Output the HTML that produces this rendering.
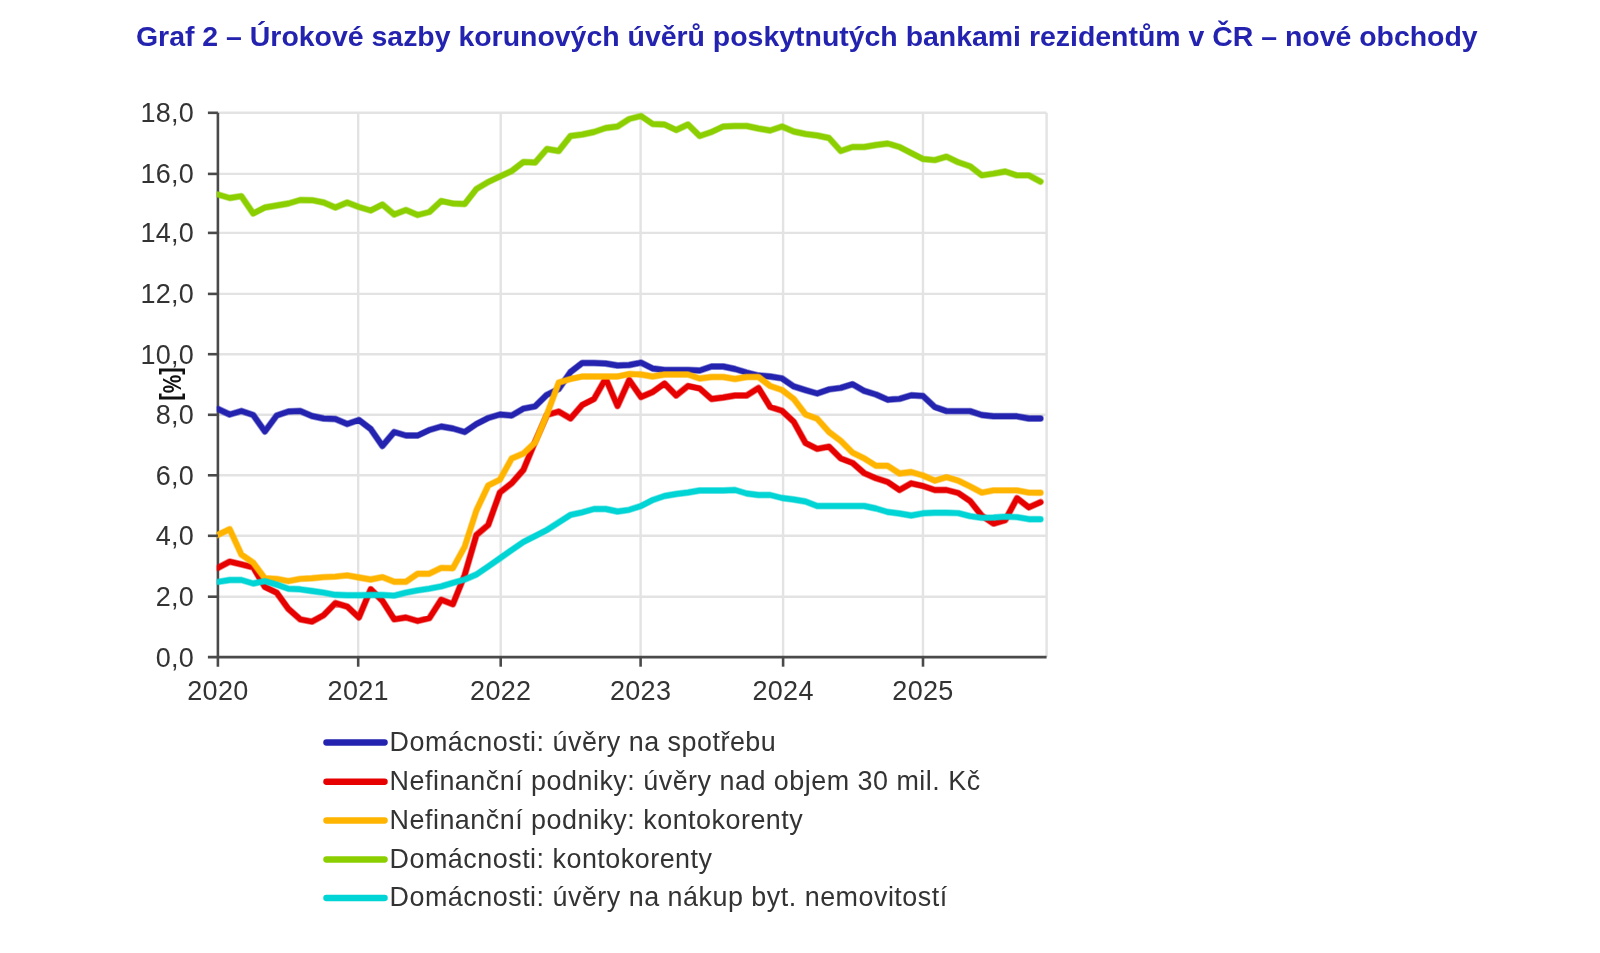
<!DOCTYPE html>
<html><head><meta charset="utf-8"><title>Graf 2</title>
<style>
html,body{margin:0;padding:0;background:#fff;}
body{width:1600px;height:953px;overflow:hidden;position:relative;}
svg{position:absolute;left:0;top:0;will-change:transform;}
.tl{font-family:"Liberation Sans",Arial,sans-serif;font-size:27px;fill:#333333;letter-spacing:0.3px;}
.lg{font-family:"Liberation Sans",Arial,sans-serif;font-size:26.9px;fill:#333333;letter-spacing:0.5px;}
.yt{font-family:"Liberation Sans",Arial,sans-serif;font-size:28px;font-weight:bold;fill:#111;}
</style></head><body>
<svg width="1600" height="953" viewBox="0 0 1600 953">
<text x="136" y="46.3" style="font-family:'Liberation Sans',Arial,sans-serif;font-size:28.45px;font-weight:bold;fill:#2323b0">Graf 2 – Úrokové sazby korunových úvěrů poskytnutých bankami rezidentům v ČR – nové obchody</text>
<line x1="217.9" y1="596.7" x2="1046.6" y2="596.7" stroke="#e3e3e3" stroke-width="2.4"/>
<line x1="217.9" y1="535.8" x2="1046.6" y2="535.8" stroke="#e3e3e3" stroke-width="2.4"/>
<line x1="217.9" y1="475.3" x2="1046.6" y2="475.3" stroke="#e3e3e3" stroke-width="2.4"/>
<line x1="217.9" y1="414.8" x2="1046.6" y2="414.8" stroke="#e3e3e3" stroke-width="2.4"/>
<line x1="217.9" y1="354.2" x2="1046.6" y2="354.2" stroke="#e3e3e3" stroke-width="2.4"/>
<line x1="217.9" y1="293.9" x2="1046.6" y2="293.9" stroke="#e3e3e3" stroke-width="2.4"/>
<line x1="217.9" y1="232.9" x2="1046.6" y2="232.9" stroke="#e3e3e3" stroke-width="2.4"/>
<line x1="217.9" y1="173.9" x2="1046.6" y2="173.9" stroke="#e3e3e3" stroke-width="2.4"/>
<line x1="217.9" y1="112.8" x2="1046.6" y2="112.8" stroke="#e3e3e3" stroke-width="2.4"/>
<line x1="358.2" y1="112.8" x2="358.2" y2="657.1" stroke="#e3e3e3" stroke-width="2.4"/>
<line x1="500.7" y1="112.8" x2="500.7" y2="657.1" stroke="#e3e3e3" stroke-width="2.4"/>
<line x1="640.6" y1="112.8" x2="640.6" y2="657.1" stroke="#e3e3e3" stroke-width="2.4"/>
<line x1="783.1" y1="112.8" x2="783.1" y2="657.1" stroke="#e3e3e3" stroke-width="2.4"/>
<line x1="923.0" y1="112.8" x2="923.0" y2="657.1" stroke="#e3e3e3" stroke-width="2.4"/>
<line x1="1046.6" y1="112.8" x2="1046.6" y2="657.1" stroke="#e3e3e3" stroke-width="2.4"/>
<line x1="217.9" y1="112.8" x2="217.9" y2="666.7" stroke="#4a4a4a" stroke-width="2.6"/>
<line x1="207.9" y1="657.1" x2="1046.6" y2="657.1" stroke="#4a4a4a" stroke-width="2.6"/>
<clipPath id="pc"><rect x="216.8" y="0" width="900" height="953"/></clipPath><g clip-path="url(#pc)">
<polyline points="217.9,409.0 229.7,414.5 241.4,411.0 253.2,415.0 264.9,431.5 276.7,415.5 288.4,411.5 300.2,411.0 311.9,416.0 323.7,418.5 335.4,419.0 347.2,424.0 358.9,420.0 370.7,429.0 382.4,446.0 394.2,432.0 405.9,435.5 417.7,435.5 429.4,430.0 441.2,426.5 452.9,428.5 464.7,432.0 476.4,424.0 488.2,418.0 499.9,414.5 511.7,415.5 523.4,408.6 535.2,406.3 546.9,394.8 558.7,389.0 570.5,372.0 582.2,363.0 594.0,363.0 605.7,363.5 617.5,365.5 629.2,365.0 641.0,362.7 652.7,368.5 664.5,370.0 676.2,370.0 688.0,370.0 699.7,370.5 711.5,366.5 723.2,366.5 735.0,369.0 746.7,372.5 758.5,375.5 770.2,376.5 782.0,378.4 793.7,386.4 805.5,390.1 817.2,393.5 829.0,389.4 840.7,387.9 852.5,384.2 864.2,390.9 876.0,394.5 887.7,399.7 899.5,398.9 911.2,395.3 923.0,396.0 934.8,407.1 946.5,411.1 958.3,411.1 970.0,411.1 981.8,415.0 993.5,416.3 1005.3,416.3 1017.0,416.3 1028.8,418.5 1040.5,418.5" fill="none" stroke="#2323b0" stroke-opacity="0.5" stroke-width="6.9" stroke-linejoin="round" stroke-linecap="round"/>
<polyline points="217.9,409.0 229.7,414.5 241.4,411.0 253.2,415.0 264.9,431.5 276.7,415.5 288.4,411.5 300.2,411.0 311.9,416.0 323.7,418.5 335.4,419.0 347.2,424.0 358.9,420.0 370.7,429.0 382.4,446.0 394.2,432.0 405.9,435.5 417.7,435.5 429.4,430.0 441.2,426.5 452.9,428.5 464.7,432.0 476.4,424.0 488.2,418.0 499.9,414.5 511.7,415.5 523.4,408.6 535.2,406.3 546.9,394.8 558.7,389.0 570.5,372.0 582.2,363.0 594.0,363.0 605.7,363.5 617.5,365.5 629.2,365.0 641.0,362.7 652.7,368.5 664.5,370.0 676.2,370.0 688.0,370.0 699.7,370.5 711.5,366.5 723.2,366.5 735.0,369.0 746.7,372.5 758.5,375.5 770.2,376.5 782.0,378.4 793.7,386.4 805.5,390.1 817.2,393.5 829.0,389.4 840.7,387.9 852.5,384.2 864.2,390.9 876.0,394.5 887.7,399.7 899.5,398.9 911.2,395.3 923.0,396.0 934.8,407.1 946.5,411.1 958.3,411.1 970.0,411.1 981.8,415.0 993.5,416.3 1005.3,416.3 1017.0,416.3 1028.8,418.5 1040.5,418.5" fill="none" stroke="#2323b0" stroke-width="5.4" stroke-linejoin="round" stroke-linecap="round"/>
<polyline points="217.9,567.9 229.7,561.6 241.4,564.4 253.2,567.3 264.9,587.0 276.7,592.7 288.4,608.9 300.2,619.3 311.9,621.6 323.7,615.2 335.4,603.1 347.2,606.6 358.9,617.5 370.7,589.3 382.4,600.8 394.2,619.3 405.9,617.5 417.7,621.0 429.4,618.1 441.2,599.7 452.9,604.3 464.7,575.0 476.4,535.0 488.2,525.0 499.9,492.5 511.7,483.2 523.4,469.9 535.2,441.5 546.9,415.0 558.7,411.5 570.5,418.5 582.2,405.0 594.0,399.0 605.7,378.5 617.5,406.0 629.2,380.0 641.0,397.0 652.7,392.0 664.5,383.5 676.2,395.5 688.0,386.0 699.7,388.5 711.5,399.0 723.2,397.5 735.0,395.5 746.7,395.5 758.5,388.0 770.2,407.0 782.0,410.8 793.7,421.7 805.5,443.0 817.2,448.9 829.0,446.7 840.7,458.4 852.5,462.9 864.2,473.1 876.0,478.3 887.7,482.0 899.5,490.0 911.2,483.3 923.0,486.0 934.8,490.0 946.5,490.0 958.3,493.0 970.0,500.9 981.8,515.7 993.5,523.6 1005.3,520.1 1017.0,498.2 1028.8,507.4 1040.5,502.2" fill="none" stroke="#e60000" stroke-opacity="0.5" stroke-width="6.9" stroke-linejoin="round" stroke-linecap="round"/>
<polyline points="217.9,567.9 229.7,561.6 241.4,564.4 253.2,567.3 264.9,587.0 276.7,592.7 288.4,608.9 300.2,619.3 311.9,621.6 323.7,615.2 335.4,603.1 347.2,606.6 358.9,617.5 370.7,589.3 382.4,600.8 394.2,619.3 405.9,617.5 417.7,621.0 429.4,618.1 441.2,599.7 452.9,604.3 464.7,575.0 476.4,535.0 488.2,525.0 499.9,492.5 511.7,483.2 523.4,469.9 535.2,441.5 546.9,415.0 558.7,411.5 570.5,418.5 582.2,405.0 594.0,399.0 605.7,378.5 617.5,406.0 629.2,380.0 641.0,397.0 652.7,392.0 664.5,383.5 676.2,395.5 688.0,386.0 699.7,388.5 711.5,399.0 723.2,397.5 735.0,395.5 746.7,395.5 758.5,388.0 770.2,407.0 782.0,410.8 793.7,421.7 805.5,443.0 817.2,448.9 829.0,446.7 840.7,458.4 852.5,462.9 864.2,473.1 876.0,478.3 887.7,482.0 899.5,490.0 911.2,483.3 923.0,486.0 934.8,490.0 946.5,490.0 958.3,493.0 970.0,500.9 981.8,515.7 993.5,523.6 1005.3,520.1 1017.0,498.2 1028.8,507.4 1040.5,502.2" fill="none" stroke="#e60000" stroke-width="5.4" stroke-linejoin="round" stroke-linecap="round"/>
<polyline points="217.9,534.8 229.7,529.2 241.4,554.6 253.2,562.7 264.9,578.3 276.7,578.9 288.4,581.2 300.2,578.9 311.9,578.3 323.7,577.1 335.4,576.6 347.2,575.4 358.9,577.5 370.7,579.5 382.4,577.1 394.2,581.8 405.9,581.8 417.7,573.7 429.4,573.7 441.2,567.9 452.9,568.2 464.7,546.7 476.4,510.5 488.2,485.5 499.9,479.6 511.7,458.5 523.4,453.5 535.2,442.5 546.9,414.5 558.7,382.6 570.5,379.0 582.2,376.5 594.0,376.5 605.7,376.5 617.5,376.5 629.2,374.0 641.0,374.5 652.7,376.5 664.5,374.5 676.2,374.5 688.0,374.5 699.7,378.5 711.5,377.0 723.2,377.0 735.0,379.0 746.7,377.0 758.5,377.0 770.2,386.0 782.0,390.0 793.7,398.9 805.5,414.4 817.2,418.8 829.0,432.0 840.7,440.8 852.5,452.6 864.2,458.4 876.0,465.8 887.7,465.8 899.5,473.5 911.2,472.0 923.0,475.5 934.8,480.7 946.5,477.2 958.3,480.7 970.0,486.4 981.8,492.6 993.5,490.4 1005.3,490.4 1017.0,490.4 1028.8,492.6 1040.5,492.8" fill="none" stroke="#ffb400" stroke-opacity="0.5" stroke-width="6.9" stroke-linejoin="round" stroke-linecap="round"/>
<polyline points="217.9,534.8 229.7,529.2 241.4,554.6 253.2,562.7 264.9,578.3 276.7,578.9 288.4,581.2 300.2,578.9 311.9,578.3 323.7,577.1 335.4,576.6 347.2,575.4 358.9,577.5 370.7,579.5 382.4,577.1 394.2,581.8 405.9,581.8 417.7,573.7 429.4,573.7 441.2,567.9 452.9,568.2 464.7,546.7 476.4,510.5 488.2,485.5 499.9,479.6 511.7,458.5 523.4,453.5 535.2,442.5 546.9,414.5 558.7,382.6 570.5,379.0 582.2,376.5 594.0,376.5 605.7,376.5 617.5,376.5 629.2,374.0 641.0,374.5 652.7,376.5 664.5,374.5 676.2,374.5 688.0,374.5 699.7,378.5 711.5,377.0 723.2,377.0 735.0,379.0 746.7,377.0 758.5,377.0 770.2,386.0 782.0,390.0 793.7,398.9 805.5,414.4 817.2,418.8 829.0,432.0 840.7,440.8 852.5,452.6 864.2,458.4 876.0,465.8 887.7,465.8 899.5,473.5 911.2,472.0 923.0,475.5 934.8,480.7 946.5,477.2 958.3,480.7 970.0,486.4 981.8,492.6 993.5,490.4 1005.3,490.4 1017.0,490.4 1028.8,492.6 1040.5,492.8" fill="none" stroke="#ffb400" stroke-width="5.4" stroke-linejoin="round" stroke-linecap="round"/>
<polyline points="217.9,194.5 229.7,198.0 241.4,196.2 253.2,213.5 264.9,207.5 276.7,205.5 288.4,203.5 300.2,200.0 311.9,200.2 323.7,202.5 335.4,207.5 347.2,202.5 358.9,207.0 370.7,210.5 382.4,204.5 394.2,214.5 405.9,210.0 417.7,215.0 429.4,212.0 441.2,201.0 452.9,203.5 464.7,204.0 476.4,189.0 488.2,182.0 499.9,176.5 511.7,171.0 523.4,162.0 535.2,162.5 546.9,149.0 558.7,151.0 570.5,136.0 582.2,134.5 594.0,132.0 605.7,128.0 617.5,126.5 629.2,119.0 641.0,116.0 652.7,124.0 664.5,124.5 676.2,130.0 688.0,124.5 699.7,136.0 711.5,132.0 723.2,126.5 735.0,126.0 746.7,126.0 758.5,128.5 770.2,130.5 782.0,126.5 793.7,131.5 805.5,134.0 817.2,135.5 829.0,138.0 840.7,151.0 852.5,147.0 864.2,147.0 876.0,145.0 887.7,143.5 899.5,147.0 911.2,153.0 923.0,159.0 934.8,160.1 946.5,156.6 958.3,162.3 970.0,166.2 981.8,175.4 993.5,173.7 1005.3,171.5 1017.0,175.4 1028.8,175.4 1040.5,181.6" fill="none" stroke="#8ccf00" stroke-opacity="0.5" stroke-width="6.9" stroke-linejoin="round" stroke-linecap="round"/>
<polyline points="217.9,194.5 229.7,198.0 241.4,196.2 253.2,213.5 264.9,207.5 276.7,205.5 288.4,203.5 300.2,200.0 311.9,200.2 323.7,202.5 335.4,207.5 347.2,202.5 358.9,207.0 370.7,210.5 382.4,204.5 394.2,214.5 405.9,210.0 417.7,215.0 429.4,212.0 441.2,201.0 452.9,203.5 464.7,204.0 476.4,189.0 488.2,182.0 499.9,176.5 511.7,171.0 523.4,162.0 535.2,162.5 546.9,149.0 558.7,151.0 570.5,136.0 582.2,134.5 594.0,132.0 605.7,128.0 617.5,126.5 629.2,119.0 641.0,116.0 652.7,124.0 664.5,124.5 676.2,130.0 688.0,124.5 699.7,136.0 711.5,132.0 723.2,126.5 735.0,126.0 746.7,126.0 758.5,128.5 770.2,130.5 782.0,126.5 793.7,131.5 805.5,134.0 817.2,135.5 829.0,138.0 840.7,151.0 852.5,147.0 864.2,147.0 876.0,145.0 887.7,143.5 899.5,147.0 911.2,153.0 923.0,159.0 934.8,160.1 946.5,156.6 958.3,162.3 970.0,166.2 981.8,175.4 993.5,173.7 1005.3,171.5 1017.0,175.4 1028.8,175.4 1040.5,181.6" fill="none" stroke="#8ccf00" stroke-width="5.4" stroke-linejoin="round" stroke-linecap="round"/>
<polyline points="217.9,581.8 229.7,580.0 241.4,580.0 253.2,583.5 264.9,581.2 276.7,584.6 288.4,588.7 300.2,589.3 311.9,591.0 323.7,592.7 335.4,594.8 347.2,595.3 358.9,595.3 370.7,595.0 382.4,595.0 394.2,595.6 405.9,592.7 417.7,590.4 429.4,588.7 441.2,586.4 452.9,582.9 464.7,579.5 476.4,574.5 488.2,566.5 499.9,558.3 511.7,550.0 523.4,542.0 535.2,536.0 546.9,530.0 558.7,522.4 570.5,514.9 582.2,512.3 594.0,509.0 605.7,509.0 617.5,511.5 629.2,509.8 641.0,506.0 652.7,500.0 664.5,496.0 676.2,494.0 688.0,492.5 699.7,490.5 711.5,490.5 723.2,490.5 735.0,490.0 746.7,493.5 758.5,495.0 770.2,495.0 782.0,498.0 793.7,499.5 805.5,501.5 817.2,506.0 829.0,506.0 840.7,506.0 852.5,506.0 864.2,506.0 876.0,508.5 887.7,512.0 899.5,513.5 911.2,515.5 923.0,513.3 934.8,512.7 946.5,512.7 958.3,513.1 970.0,516.2 981.8,517.9 993.5,517.5 1005.3,516.6 1017.0,517.1 1028.8,519.2 1040.5,519.2" fill="none" stroke="#00d4d4" stroke-opacity="0.5" stroke-width="6.9" stroke-linejoin="round" stroke-linecap="round"/>
<polyline points="217.9,581.8 229.7,580.0 241.4,580.0 253.2,583.5 264.9,581.2 276.7,584.6 288.4,588.7 300.2,589.3 311.9,591.0 323.7,592.7 335.4,594.8 347.2,595.3 358.9,595.3 370.7,595.0 382.4,595.0 394.2,595.6 405.9,592.7 417.7,590.4 429.4,588.7 441.2,586.4 452.9,582.9 464.7,579.5 476.4,574.5 488.2,566.5 499.9,558.3 511.7,550.0 523.4,542.0 535.2,536.0 546.9,530.0 558.7,522.4 570.5,514.9 582.2,512.3 594.0,509.0 605.7,509.0 617.5,511.5 629.2,509.8 641.0,506.0 652.7,500.0 664.5,496.0 676.2,494.0 688.0,492.5 699.7,490.5 711.5,490.5 723.2,490.5 735.0,490.0 746.7,493.5 758.5,495.0 770.2,495.0 782.0,498.0 793.7,499.5 805.5,501.5 817.2,506.0 829.0,506.0 840.7,506.0 852.5,506.0 864.2,506.0 876.0,508.5 887.7,512.0 899.5,513.5 911.2,515.5 923.0,513.3 934.8,512.7 946.5,512.7 958.3,513.1 970.0,516.2 981.8,517.9 993.5,517.5 1005.3,516.6 1017.0,517.1 1028.8,519.2 1040.5,519.2" fill="none" stroke="#00d4d4" stroke-width="5.4" stroke-linejoin="round" stroke-linecap="round"/>
</g>
<line x1="207.9" y1="596.7" x2="217.9" y2="596.7" stroke="#4a4a4a" stroke-width="2.6"/>
<line x1="207.9" y1="535.8" x2="217.9" y2="535.8" stroke="#4a4a4a" stroke-width="2.6"/>
<line x1="207.9" y1="475.3" x2="217.9" y2="475.3" stroke="#4a4a4a" stroke-width="2.6"/>
<line x1="207.9" y1="414.8" x2="217.9" y2="414.8" stroke="#4a4a4a" stroke-width="2.6"/>
<line x1="207.9" y1="354.2" x2="217.9" y2="354.2" stroke="#4a4a4a" stroke-width="2.6"/>
<line x1="207.9" y1="293.9" x2="217.9" y2="293.9" stroke="#4a4a4a" stroke-width="2.6"/>
<line x1="207.9" y1="232.9" x2="217.9" y2="232.9" stroke="#4a4a4a" stroke-width="2.6"/>
<line x1="207.9" y1="173.9" x2="217.9" y2="173.9" stroke="#4a4a4a" stroke-width="2.6"/>
<line x1="207.9" y1="112.8" x2="217.9" y2="112.8" stroke="#4a4a4a" stroke-width="2.6"/>
<line x1="358.2" y1="657.1" x2="358.2" y2="666.7" stroke="#4a4a4a" stroke-width="2.6"/>
<line x1="500.7" y1="657.1" x2="500.7" y2="666.7" stroke="#4a4a4a" stroke-width="2.6"/>
<line x1="640.6" y1="657.1" x2="640.6" y2="666.7" stroke="#4a4a4a" stroke-width="2.6"/>
<line x1="783.1" y1="657.1" x2="783.1" y2="666.7" stroke="#4a4a4a" stroke-width="2.6"/>
<line x1="923.0" y1="657.1" x2="923.0" y2="666.7" stroke="#4a4a4a" stroke-width="2.6"/>
<text x="194.2" y="666.6" text-anchor="end" class="tl">0,0</text>
<text x="194.2" y="606.2" text-anchor="end" class="tl">2,0</text>
<text x="194.2" y="545.3" text-anchor="end" class="tl">4,0</text>
<text x="194.2" y="484.8" text-anchor="end" class="tl">6,0</text>
<text x="194.2" y="424.3" text-anchor="end" class="tl">8,0</text>
<text x="194.2" y="363.7" text-anchor="end" class="tl">10,0</text>
<text x="194.2" y="303.4" text-anchor="end" class="tl">12,0</text>
<text x="194.2" y="242.4" text-anchor="end" class="tl">14,0</text>
<text x="194.2" y="183.4" text-anchor="end" class="tl">16,0</text>
<text x="194.2" y="122.3" text-anchor="end" class="tl">18,0</text>
<text x="217.9" y="700" text-anchor="middle" class="tl">2020</text>
<text x="358.2" y="700" text-anchor="middle" class="tl">2021</text>
<text x="500.7" y="700" text-anchor="middle" class="tl">2022</text>
<text x="640.6" y="700" text-anchor="middle" class="tl">2023</text>
<text x="783.1" y="700" text-anchor="middle" class="tl">2024</text>
<text x="923.0" y="700" text-anchor="middle" class="tl">2025</text>
<text transform="translate(178.7,384) rotate(-90) scale(0.8,1)" text-anchor="middle" class="yt">[<tspan font-size="26px" dy="2">%</tspan><tspan dy="-2">]</tspan></text>
<line x1="326.4" y1="742.5" x2="384.6" y2="742.5" stroke="#2323b0" stroke-width="6.3" stroke-linecap="round"/>
<text x="389.6" y="750.6" class="lg">Domácnosti: úvěry na spotřebu</text>
<line x1="326.4" y1="781.75" x2="384.6" y2="781.75" stroke="#e60000" stroke-width="6.3" stroke-linecap="round"/>
<text x="389.6" y="789.9" class="lg">Nefinanční podniky: úvěry nad objem 30 mil. Kč</text>
<line x1="326.4" y1="820.5" x2="384.6" y2="820.5" stroke="#ffb400" stroke-width="6.3" stroke-linecap="round"/>
<text x="389.6" y="828.6" class="lg">Nefinanční podniky: kontokorenty</text>
<line x1="326.4" y1="859.5" x2="384.6" y2="859.5" stroke="#8ccf00" stroke-width="6.3" stroke-linecap="round"/>
<text x="389.6" y="867.6" class="lg">Domácnosti: kontokorenty</text>
<line x1="326.4" y1="898" x2="384.6" y2="898" stroke="#00d4d4" stroke-width="6.3" stroke-linecap="round"/>
<text x="389.6" y="906.1" class="lg">Domácnosti: úvěry na nákup byt. nemovitostí</text>
</svg>
</body></html>
